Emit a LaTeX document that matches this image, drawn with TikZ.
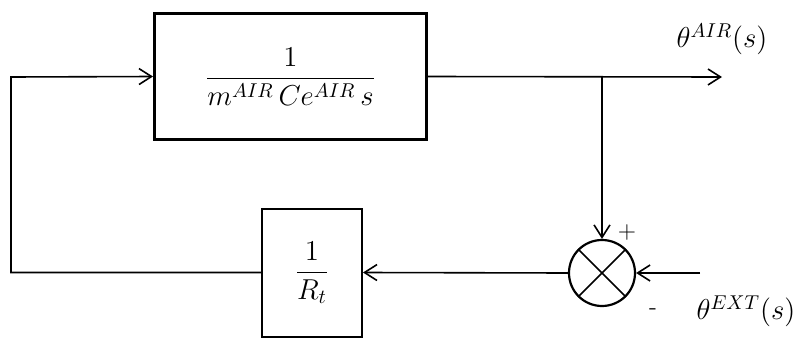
\documentclass[tikz,border=0pt]{standalone}
\usepackage{amsmath,amssymb}
\usepackage{xcolor}
\usetikzlibrary{positioning,arrows.meta}

\begin{document}
\begin{tikzpicture}[
    x=0.5pt, y=-0.5pt,
    font=\Large,
    sig/.style     = {-{Straight Barb[length=2.2mm,width=2.8mm]}, line width=0.8pt},
    block/.style   = {draw, line width=1.5pt, inner sep=0pt},
    gainbox/.style = {draw, line width=1pt, inner sep=0pt},
    sumnode/.style = {circle, draw, line width=1.1pt, minimum size=33pt, inner sep=0pt},
    sgn/.style     = {font=\large},
]
\useasboundingbox (0,0) rectangle (800,338);

%======== blocks ========
\node[block, minimum width=136pt, minimum height=63pt] (plant) at (290.5,76.5)
    {$\dfrac{1}{m^{AIR}\,Ce^{AIR}\,s}$};
\node[gainbox, minimum width=50pt, minimum height=64pt] (gain) at (312,272.5)
    {$\dfrac{1}{R_t}$};
\node[sumnode] (sum) at (602,273) {};
\draw[line width=0.8pt] (sum.north west) -- (sum.south east)
                        (sum.north east) -- (sum.south west);

% free ends of the signals
\coordinate (corner) at (11,77);
\coordinate (out) at (722,77);
\coordinate (in) at (700,273);

%======== connectors ========
\draw[sig] (plant.east) -- (out);
\draw[sig] (sum |- plant.east) -- (sum.north);
\draw[sig] (in) -- (sum.east);
\draw[sig] (sum.west) -- (gain.east);
\draw[sig] (gain.west) -| (corner) -- (plant.west);

%======== labels ========
\node (thair) at (722,39) {$\theta^{AIR}(s)$};
\node (thext) at (746,311) {$\theta^{EXT}(s)$};
\node[sgn] (plus) at (627,233) {+};
\node[sgn] (minus) at (653,312) {-};

\end{tikzpicture}
\end{document}
